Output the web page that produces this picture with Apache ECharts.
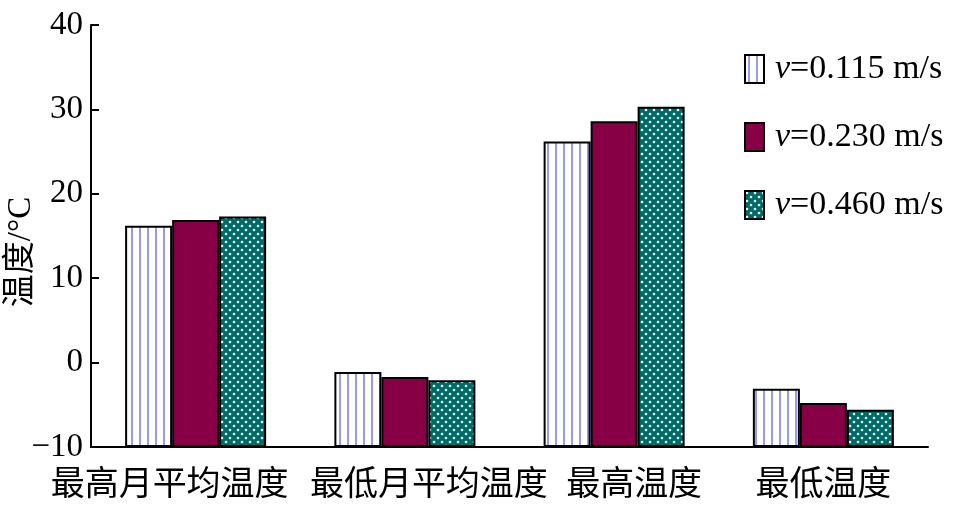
<!DOCTYPE html>
<html>
<head>
<meta charset="utf-8">
<script src="https://cdn.jsdelivr.net/npm/echarts@6/dist/echarts.min.js"></script>
<style>
  html, body { margin: 0; padding: 0; background: #fff; }
  #chart { width: 954px; height: 508px; }
</style>
</head>
<body>
<div id="chart"></div>
<script>
const categories = ['最高月平均温度', '最低月平均温度', '最高温度', '最低温度'];
const seriesNames = ['0.115 m/s', '0.230 m/s', '0.460 m/s'];
const v0115 = [16.2, -1.1, 26.2, -3.1];
const v0230 = [16.9, -1.7, 28.6, -4.8];
const v0460 = [17.3, -2.1, 30.3, -5.6];

const FONT = '"Liberation Serif", "Noto Sans CJK SC", serif';
// the source figure nudges its category labels off-centre
const labelShift = [-26, 24, 20, 0];

// white with thin blue vertical stripes
function stripePattern() {
  const c = document.createElement('canvas');
  c.width = 8; c.height = 8;
  const ctx = c.getContext('2d');
  ctx.fillStyle = '#ffffff';
  ctx.fillRect(0, 0, 8, 8);
  ctx.fillStyle = '#9a9af2';
  ctx.fillRect(3, 0, 2, 8);
  return c;
}

// teal with white staggered dots
function dotPattern() {
  const c = document.createElement('canvas');
  c.width = 8; c.height = 8;
  const ctx = c.getContext('2d');
  ctx.fillStyle = '#006b66';
  ctx.fillRect(0, 0, 8, 8);
  ctx.fillStyle = '#e8fbf8';
  [[2, 2], [6, 6]].forEach(function (p) {
    ctx.beginPath();
    ctx.arc(p[0], p[1], 1.3, 0, Math.PI * 2);
    ctx.fill();
  });
  return c;
}

const fills = [
  { image: stripePattern(), repeat: 'repeat' },
  '#870046',
  { image: dotPattern(), repeat: 'repeat' }
];
const values = [v0115, v0230, v0460];

const chart = echarts.init(document.getElementById('chart'), null, { renderer: 'canvas' });

const option = {
  backgroundColor: '#fff',
  animation: false,
  textStyle: { fontFamily: FONT, color: '#000' },
  grid: { left: 91, right: 26, top: 25, bottom: 61, outerBoundsMode: 'none' },
  legend: {
    orient: 'vertical',
    left: 744,
    top: 52,
    padding: 0,
    itemWidth: 19,
    itemHeight: 28,
    itemGap: 34,
    icon: 'rect',
    data: seriesNames,
    formatter: function (name) { return '{i|v}=' + name; },
    textStyle: {
      fontFamily: FONT,
      fontSize: 34,
      color: '#000',
      padding: [0, 0, 0, 6],
      rich: {
        i: { fontFamily: FONT, fontSize: 34, fontStyle: 'italic', color: '#000' }
      }
    }
  },
  xAxis: {
    type: 'category',
    data: categories.map(function (c, i) {
      const s = labelShift[i];
      return {
        value: c,
        textStyle: { padding: s < 0 ? [0, -2 * s, 0, 0] : [0, 0, 0, 2 * s] }
      };
    }),
    axisLine: { onZero: false, lineStyle: { color: '#000', width: 2 } },
    axisTick: { inside: true, length: 6, lineStyle: { color: '#000', width: 2 } },
    axisLabel: { interval: 0, hideOverlap: false, fontFamily: FONT, fontSize: 34, color: '#000', margin: 22 }
  },
  yAxis: {
    type: 'value',
    min: -10,
    max: 40,
    interval: 10,
    startValue: -10,
    name: '温度/°C',
    nameLocation: 'middle',
    nameGap: 53,
    nameMoveOverlap: false,
    nameTextStyle: { fontFamily: FONT, fontSize: 33, color: '#000', padding: [0, 32, 0, 0] },
    axisLine: { show: true, lineStyle: { color: '#000', width: 2 } },
    axisTick: { show: true, inside: true, length: 8, lineStyle: { color: '#000', width: 2 } },
    axisLabel: {
      fontFamily: FONT,
      fontSize: 33,
      color: '#000',
      margin: 8,
      formatter: function (v) { return v < 0 ? '\u2212' + Math.abs(v) : String(v); }
    },
    splitLine: { show: false }
  },
  series: seriesNames.map(function (name, i) {
    return {
      name: name,
      type: 'bar',
      data: values[i],
      barWidth: 47,
      barGap: '0%',
      itemStyle: { color: fills[i], borderColor: '#000', borderWidth: 2 }
    };
  })
};

chart.setOption(option);
</script>
</body>
</html>
